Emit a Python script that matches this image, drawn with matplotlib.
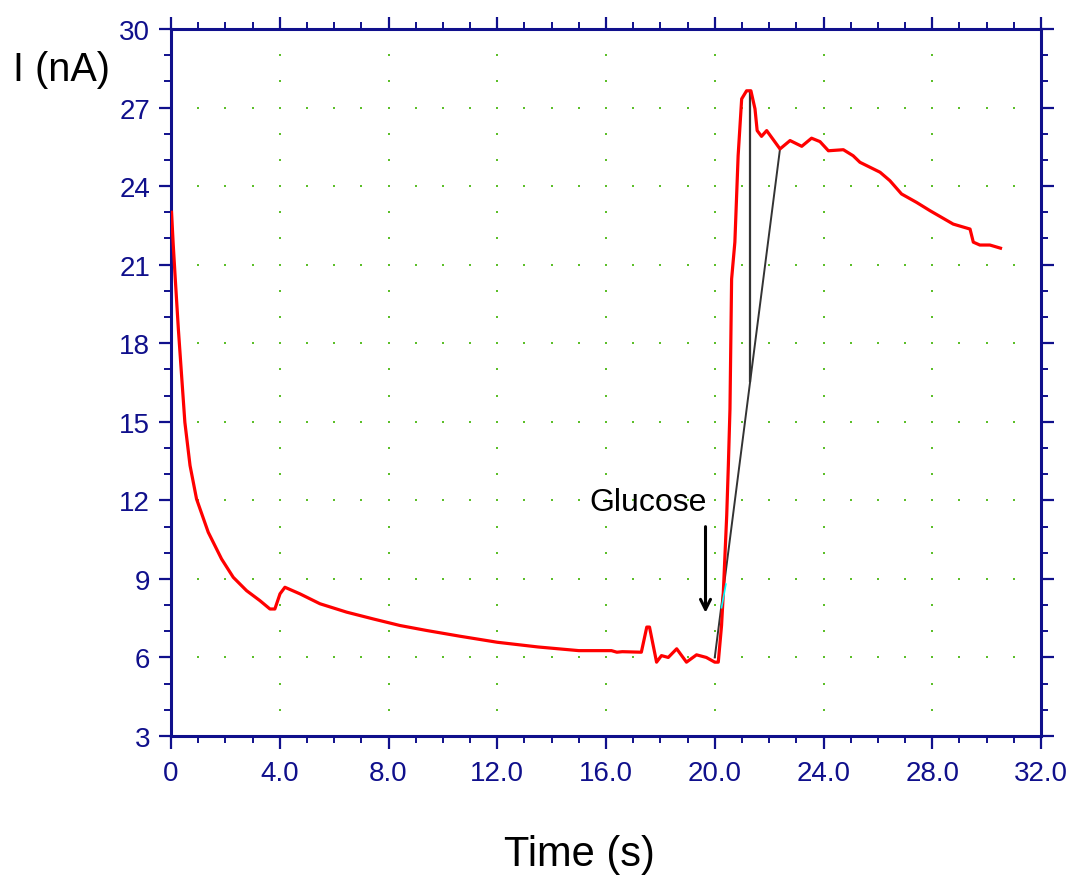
import numpy as np
import matplotlib
matplotlib.use("Agg")
import matplotlib.pyplot as plt
from matplotlib.ticker import MultipleLocator

plt.rcParams['font.family'] = ['Liberation Sans', 'DejaVu Sans']

# current trace (time in s, current in nA)
time = [0.02, 0.08, 0.15, 0.27, 0.39, 0.51, 0.70, 0.94, 1.37, 1.86, 2.29, 2.78,
        3.27, 3.64, 3.82, 4.01, 4.19, 4.74, 5.48, 6.46, 7.44, 8.42, 9.40, 10.63,
        12.0, 13.5, 15.0, 16.2, 16.4, 16.6, 17.3, 17.5, 17.6, 17.86, 18.04, 18.29,
        18.6, 18.96, 19.33, 19.69, 20.0, 20.13, 20.25, 20.31, 20.44, 20.5, 20.56,
        20.62, 20.74, 20.86, 20.99, 21.17, 21.33, 21.48, 21.56, 21.72, 21.91, 22.4,
        22.77, 23.2, 23.56, 23.87, 24.18, 24.73, 25.09, 25.34, 26.08, 26.44, 26.87,
        27.42, 27.92, 28.77, 29.39, 29.51, 29.75, 30.12, 30.51]
current = [23.0, 21.8, 20.58, 18.55, 16.76, 14.98, 13.33, 12.05, 10.78, 9.76, 9.06, 8.55,
           8.17, 7.85, 7.85, 8.43, 8.68, 8.43, 8.05, 7.73, 7.47, 7.22, 7.03, 6.81,
           6.58, 6.4, 6.26, 6.26, 6.2, 6.22, 6.2, 7.16, 7.16, 5.82, 6.07, 6.0,
           6.33, 5.82, 6.1, 6.0, 5.82, 5.82, 7.22, 8.36, 11.42, 13.33, 15.49,
           20.45, 21.86, 25.16, 27.33, 27.64, 27.64, 26.95, 26.12, 25.9, 26.12, 25.42,
           25.74, 25.52, 25.83, 25.7, 25.35, 25.39, 25.16, 24.91, 24.53, 24.21, 23.7,
           23.38, 23.06, 22.55, 22.36, 21.86, 21.75, 21.75, 21.63]

# construction lines for the peak
tangent_t = [20.0, 22.4]
tangent_i = [6.0, 25.42]
height_t = [21.3, 21.3]
height_i = [27.64, 16.57]
cyan_t = [20.25, 20.41]
cyan_i = [7.9, 8.8]

x_ticks = [0, 4, 8, 12, 16, 20, 24, 28, 32]
x_labels = ["0", "4.0", "8.0", "12.0", "16.0", "20.0", "24.0", "28.0", "32.0"]
y_ticks = [3, 6, 9, 12, 15, 18, 21, 24, 27, 30]

navy = '#10108c'
dot_green = '#5cbf2a'

fig = plt.figure(figsize=(10.71, 8.79), dpi=100)
ax = fig.add_axes([171/1071, 1 - 737/879, 870/1071, 707/879])

# dotted grid: dots every 1 s along major current lines, every 1 nA along major time lines
gx, gy = np.meshgrid(np.arange(1, 32), np.arange(6, 30, 3))
ax.plot(gx.ravel(), gy.ravel(), linestyle='none', marker='s', markersize=1.6,
        color=dot_green, markeredgewidth=0)
gx, gy = np.meshgrid(np.arange(4, 32, 4), np.arange(4, 30))
ax.plot(gx.ravel(), gy.ravel(), linestyle='none', marker='s', markersize=1.6,
        color=dot_green, markeredgewidth=0)

ax.plot(tangent_t, tangent_i, color='#333333', lw=1.4, zorder=3)
ax.plot(height_t, height_i, color='#333333', lw=1.6, zorder=3)
ax.plot(time, current, color='red', lw=2.3, zorder=4)
ax.plot(cyan_t, cyan_i, color='cyan', lw=1.2, zorder=5)

ax.annotate("", xy=(19.66, 7.6), xytext=(19.66, 11.1),
            arrowprops=dict(arrowstyle='->', color='black', lw=2.2,
                            mutation_scale=18))
ax.text(17.54, 11.93, "Glucose", fontsize=23, ha='center', va='center')

ax.set_xlim(0, 32)
ax.set_ylim(3, 30)
ax.set_xticks(x_ticks)
ax.set_xticklabels(x_labels)
ax.set_yticks(y_ticks)
ax.xaxis.set_minor_locator(MultipleLocator(1))
ax.yaxis.set_minor_locator(MultipleLocator(1))

for s in ax.spines.values():
    s.set_color(navy)
    s.set_linewidth(2.2)
ax.tick_params(which='both', direction='out', color=navy, labelcolor=navy,
               top=True, right=True, labelsize=20)
ax.tick_params(which='major', length=9, width=1.6)
ax.tick_params(which='minor', length=5, width=1.4)
ax.tick_params(axis='x', which='major', pad=8)
ax.tick_params(axis='y', which='major', pad=6)

fig.text(13/1071, 1 - 70/879, "I (nA)", fontsize=28.5, ha='left', va='center')
fig.text(579/1071, 1 - 855/879, "Time (s)", fontsize=30, ha='center', va='center')

fig.savefig('out.png', dpi=100)
